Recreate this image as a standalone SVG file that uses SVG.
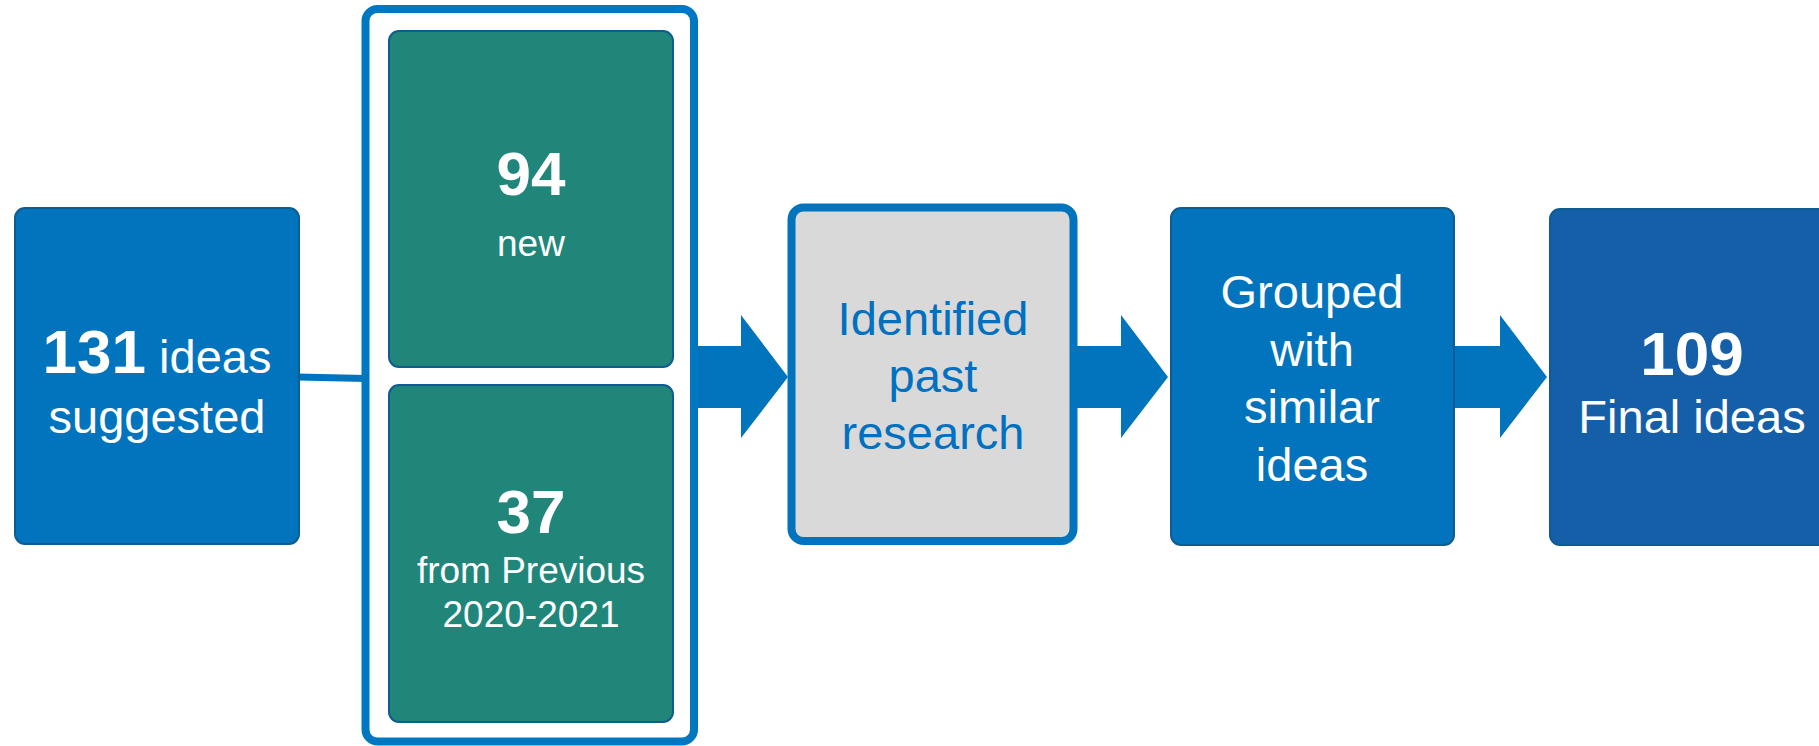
<svg xmlns="http://www.w3.org/2000/svg" width="1819" height="746" viewBox="0 0 1819 746">
<style>
.box{stroke:#0D5C92;stroke-width:2}
.blue{fill:#0274BE}
.green{fill:#21867A}
.dark{fill:#155EA8}
.t{font-family:"Liberation Sans",Arial,sans-serif;text-anchor:middle;fill:#FFFFFF}
.num{font-weight:bold;font-size:62px}
.lbl{font-size:47px}
.sm{font-size:37px}
.arrow{fill:#0274BE}
</style>
<rect width="1819" height="746" fill="#FFFFFF"/>
<g id="connectors">
<line x1="298" y1="377" x2="366" y2="378.5" stroke="#0274BE" stroke-width="7"/>
<polygon class="arrow" points="697,346 741,346 741,315 788,377 741,438 741,408 697,408"/>
<polygon class="arrow" points="1076,346 1121,346 1121,315 1168,377 1121,438 1121,408 1076,408"/>
<polygon class="arrow" points="1453,346 1500,346 1500,315 1547,377 1500,438 1500,408 1453,408"/>
</g>
<g id="node-suggested">
<rect class="box blue" x="15" y="208" width="284" height="336" rx="10"/>
<text class="t" x="157" y="373"><tspan class="num">131</tspan><tspan class="lbl"> ideas</tspan></text>
<text class="t lbl" x="157" y="433">suggested</text>
</g>
<g id="node-container">
<rect x="365.5" y="9" width="328.5" height="732.5" rx="12" fill="#FFFFFF" stroke="#0078C1" stroke-width="8"/>
</g>
<g id="node-new">
<rect class="box green" x="389" y="31" width="284" height="336" rx="10"/>
<text class="t num" x="531" y="195">94</text>
<text class="t sm" x="531" y="256">new</text>
</g>
<g id="node-previous">
<rect class="box green" x="389" y="385" width="284" height="337" rx="10"/>
<text class="t num" x="531" y="533">37</text>
<text class="t sm" x="531" y="583">from Previous</text>
<text class="t sm" x="531" y="627">2020-2021</text>
</g>
<g id="node-past-research">
<rect x="791.5" y="207.5" width="282" height="333.5" rx="12" fill="#D9D9D9" stroke="#0274BE" stroke-width="8"/>
<text class="t lbl" x="933" y="335" fill="#0070C0" style="fill:#0070C0">Identified</text>
<text class="t lbl" x="933" y="392" style="fill:#0070C0">past</text>
<text class="t lbl" x="933" y="449" style="fill:#0070C0">research</text>
</g>
<g id="node-grouped">
<rect class="box blue" x="1171" y="208" width="283" height="337" rx="10"/>
<text class="t lbl" x="1312" y="308">Grouped</text>
<text class="t lbl" x="1312" y="366">with</text>
<text class="t lbl" x="1312" y="423">similar</text>
<text class="t lbl" x="1312" y="481">ideas</text>
</g>
<g id="node-final">
<rect class="box dark" x="1550" y="209" width="284" height="336" rx="10"/>
<text class="t num" x="1692" y="375">109</text>
<text class="t lbl" x="1692" y="433">Final ideas</text>
</g>
</svg>
